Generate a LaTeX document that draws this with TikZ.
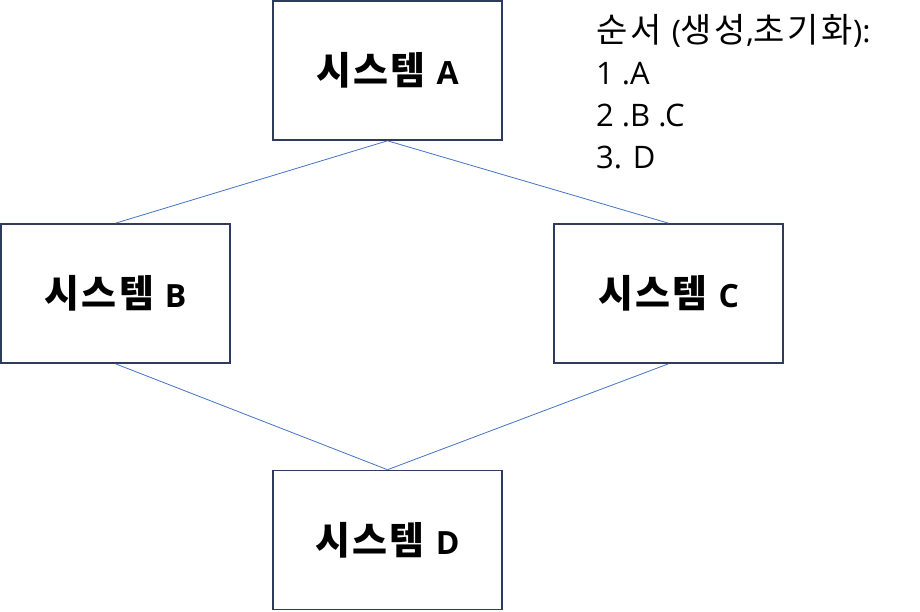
\documentclass[tikz,border=0pt]{standalone}
\usepackage{fontspec}
\setmainfont{Noto Sans CJK KR}
\newfontfamily\krnote{Noto Sans CJK KR}[LetterSpace=8]
\newfontfamily\krlabel{Noto Sans CJK KR}[LetterSpace=6]
\newfontfamily\latfont{Open Sans}
\newcommand{\lat}[1]{{\latfont\fontsize{32}{34}\selectfont #1}}
\newcommand{\latn}[1]{{\latfont\fontsize{31}{34}\selectfont #1}}
\begin{document}
\begin{tikzpicture}[x=1pt,y=-1pt,
  sysbox/.style={draw=boxborder,line width=1.6pt,minimum width=229pt,minimum height=139pt,inner sep=0pt,font=\krlabel\fontsize{38}{42}\selectfont\bfseries},
  link/.style={draw=linkblue,line width=0.8pt},
  note/.style={anchor=base west,inner sep=0pt,font=\krnote\fontsize{34}{38}\selectfont}]
\definecolor{boxborder}{HTML}{2F3B5C}
\definecolor{linkblue}{HTML}{4472C4}
\useasboundingbox (0,0) rectangle (920,611);
\node[sysbox] (A) at (387.5,70.5) {시스템 \lat{A}};
\node[sysbox] (B) at (115.5,293.5) {시스템 \lat{B}};
\node[sysbox] (C) at (668.5,293.5) {시스템 \lat{C}};
\node[sysbox] (D) at (387.5,540) {시스템 \lat{D}};
\draw[link] (A.south) -- (B.north);
\draw[link] (A.south) -- (C.north);
\draw[link] (B.south) -- (D.north);
\draw[link] (C.south) -- (D.north);
\node[note] (n1) at (596,42) {순서 \latn{(}생성\latn{,}초기화\latn{):}};
\node[note] (n2) at (596,84) {\latn{1 .A}};
\node[note] (n3) at (596,126) {\latn{2 .B .C}};
\node[note] (n4) at (596,168) {\latn{3. D}};
\end{tikzpicture}
\end{document}
